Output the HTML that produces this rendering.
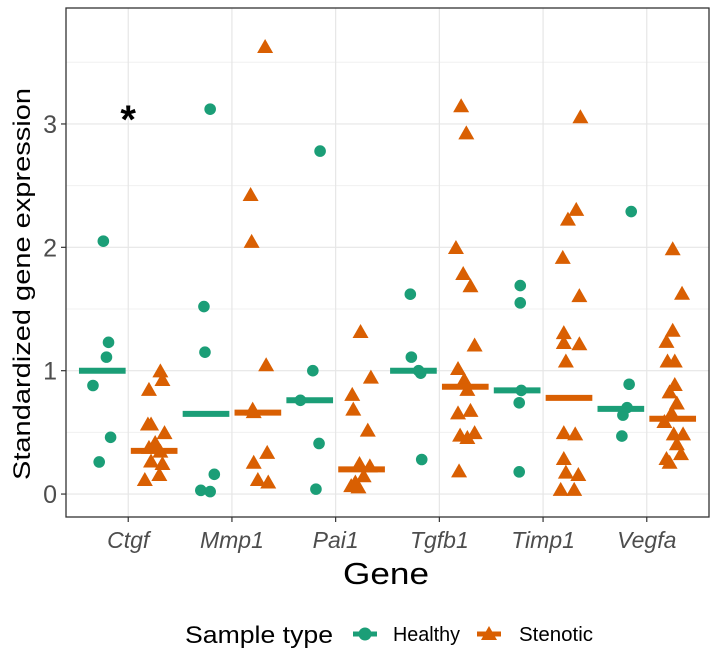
<!DOCTYPE html>
<html><head><meta charset="utf-8">
<style>
html,body{margin:0;padding:0;background:#fff;}
svg{display:block;font-family:"Liberation Sans",Arial,sans-serif;}
</style></head>
<body>
<svg id="chart" width="720" height="659" viewBox="0 0 720 659">
  <rect x="0" y="0" width="720" height="659" fill="#fff"/>
  <g id="grid"></g>
  <g id="marks"></g>
  <rect x="66" y="8" width="643" height="509" fill="none" stroke="#333" stroke-width="1.3"/>
  <g id="axes"></g>
  <text x="30" y="284" transform="rotate(-90 30 284)" text-anchor="middle" font-size="24" textLength="392" lengthAdjust="spacingAndGlyphs" fill="#000">Standardized gene expression</text>
  <text x="386" y="584" text-anchor="middle" font-size="31" textLength="86" lengthAdjust="spacingAndGlyphs" fill="#000">Gene</text>
  <g>
    <text x="185" y="643" font-size="24" textLength="148" lengthAdjust="spacingAndGlyphs" fill="#000">Sample type</text>
    <g>
      <line x1="353" y1="634" x2="377" y2="634" stroke="#1B9E77" stroke-width="5"/>
      <circle cx="365" cy="634" r="6.5" fill="#1B9E77"/>
      <text x="393" y="641" font-size="20" textLength="67" lengthAdjust="spacingAndGlyphs" fill="#000">Healthy</text>
    </g>
    <g>
      <line x1="477" y1="634" x2="501" y2="634" stroke="#D95F02" stroke-width="5"/>
      <polygon points="489,626 497,640 481,640" fill="#D95F02"/>
      <text x="519" y="641" font-size="20" textLength="74" lengthAdjust="spacingAndGlyphs" fill="#000">Stenotic</text>
    </g>
  </g>
</svg>
<script>
const genes = ["Ctgf","Mmp1","Pai1","Tgfb1","Timp1","Vegfa"];
const yTicks = [0,1,2,3];
const healthyValues = [
  [2.05,1.23,1.11,0.88,0.46,0.26],
  [3.12,1.52,1.15,0.16,0.03,0.02],
  [2.78,1.0,0.76,0.41,0.04],
  [1.62,1.11,0.98,1.0,0.28],
  [1.69,1.55,0.84,0.74,0.18],
  [2.29,0.89,0.70,0.64,0.47]
];
const healthyJitter = [
  [0.01,0.06,0.04,-0.09,0.08,-0.03],
  [0.04,-0.02,-0.01,0.08,-0.05,0.04],
  [0.10,0.03,-0.09,0.09,0.06],
  [-0.03,-0.02,0.07,0.05,0.08],
  [0.03,0.03,0.04,0.02,0.02],
  [0.10,0.08,0.06,0.02,0.01]
];
const stenoticValues = [
  [0.99,0.92,0.84,0.56,0.56,0.49,0.41,0.37,0.34,0.26,0.24,0.15,0.11],
  [3.62,2.42,2.04,1.04,0.68,0.66,0.33,0.25,0.11,0.09],
  [1.31,0.94,0.80,0.68,0.51,0.24,0.22,0.14,0.09,0.06,0.05],
  [3.14,2.92,1.99,1.78,1.68,1.20,1.01,0.92,0.84,0.65,0.67,0.47,0.45,0.49,0.18],
  [3.05,2.30,2.22,1.91,1.60,1.30,1.22,1.21,1.07,0.49,0.48,0.28,0.17,0.15,0.03,0.03],
  [1.98,1.62,1.32,1.23,1.07,1.07,0.88,0.82,0.73,0.65,0.58,0.48,0.48,0.40,0.32,0.28,0.25]
];
const stenoticJitter = [
  [0.06,0.08,-0.05,-0.06,-0.03,0.10,0.01,-0.05,0.06,-0.03,0.08,0.05,-0.09],
  [0.07,-0.07,-0.06,0.08,-0.05,-0.04,0.09,-0.04,0.0,0.10],
  [-0.01,0.09,-0.09,-0.08,0.06,-0.02,0.08,0.02,-0.06,-0.10,-0.03],
  [-0.04,0.01,-0.09,-0.02,0.05,0.09,-0.07,-0.01,0.02,-0.07,0.05,-0.05,0.02,0.09,-0.06],
  [0.11,0.07,-0.01,-0.06,0.10,-0.05,-0.05,0.10,-0.03,-0.05,0.06,-0.05,-0.03,0.09,-0.08,0.05],
  [0.0,0.09,0.0,-0.06,-0.05,0.02,0.02,-0.03,0.04,-0.01,-0.08,0.01,0.10,0.04,0.08,-0.06,-0.03]
];
const healthyMedians = [1.0,0.65,0.76,1.0,0.84,0.69];
const stenoticMedians = [0.35,0.66,0.20,0.87,0.78,0.61];
const annotations = [{gene:"Ctgf", value:3.09, label:"*"}];

const NS="http://www.w3.org/2000/svg";
const L=66,R=709,T=8,B=517;
const yMin=-0.186, yMax=3.94;
const step=(R-L)/(genes.length-1+1.2);
function xScale(i){return L+(0.6+i)*step;}
function yScale(v){return B-(v-yMin)/(yMax-yMin)*(B-T);}
function mk(tag,attrs,parent){const e=document.createElementNS(NS,tag);for(const k in attrs)e.setAttribute(k,attrs[k]);parent.appendChild(e);return e;}
const grid=document.getElementById('grid'),marks=document.getElementById('marks'),axes=document.getElementById('axes');
const HC="#1B9E77",SC="#D95F02";
for(let i=0;i<yTicks.length;i++){
  const v=yTicks[i]+0.5;
  const ln=mk('line',{x1:L,x2:R,y1:yScale(v),y2:yScale(v),stroke:'#f0f0f0','stroke-width':1},grid);
  
  
}
yTicks.forEach(v=>{
  const ln=mk('line',{x1:L,x2:R,y1:yScale(v),y2:yScale(v),stroke:'#e6e6e6','stroke-width':1.2},grid);
  
  
  const tk=mk('line',{x1:L-5,x2:L,y1:yScale(v),y2:yScale(v),stroke:'#333','stroke-width':1.2},axes);
  
  
  const t=mk('text',{x:L-9,y:yScale(v)+9,'text-anchor':'end','font-size':25,fill:'#4d4d4d'},axes);
  t.textContent=String(v);
  
  
});
genes.forEach((g,i)=>{
  const x=xScale(i);
  const ln=mk('line',{x1:x,x2:x,y1:T,y2:B,stroke:'#e6e6e6','stroke-width':1.2},grid);
  
  
  const tk=mk('line',{x1:x,x2:x,y1:B,y2:B+5,stroke:'#333','stroke-width':1.2},axes);
  
  
  const t=mk('text',{x:x,y:B+31,'text-anchor':'middle','font-size':23,'font-style':'italic',fill:'#4d4d4d'},axes);
  t.textContent=g;
  
  
});
const dodge=0.25, half=0.225;
genes.forEach((g,i)=>{
  const hc=xScale(i)-dodge*step, sc=xScale(i)+dodge*step;
  healthyValues[i].forEach((v,j)=>{
    const c=mk('circle',{cx:hc+healthyJitter[i][j]*step,cy:yScale(v),r:5.8,fill:HC},marks);
    
    
  });
  stenoticValues[i].forEach((v,j)=>{
    const x=sc+stenoticJitter[i][j]*step,y=yScale(v);
    const p=mk('polygon',{points:`${x},${y-8.5} ${x+8},${y+5.5} ${x-8},${y+5.5}`,fill:SC},marks);
    
    
  });
  const hm=mk('line',{x1:hc-half*step,x2:hc+half*step,y1:yScale(healthyMedians[i]),y2:yScale(healthyMedians[i]),stroke:HC,'stroke-width':6},marks);
  
  
  const sm=mk('line',{x1:sc-half*step,x2:sc+half*step,y1:yScale(stenoticMedians[i]),y2:yScale(stenoticMedians[i]),stroke:SC,'stroke-width':6},marks);
  
  
});
annotations.forEach(a=>{
  const i=genes.indexOf(a.gene);
  const t=mk('text',{x:xScale(i),y:yScale(a.value)+20,'text-anchor':'middle','font-size':40,'font-weight':'bold',fill:'#000'},marks);
  t.textContent=a.label;
  
  
});
</script>
</body></html>
